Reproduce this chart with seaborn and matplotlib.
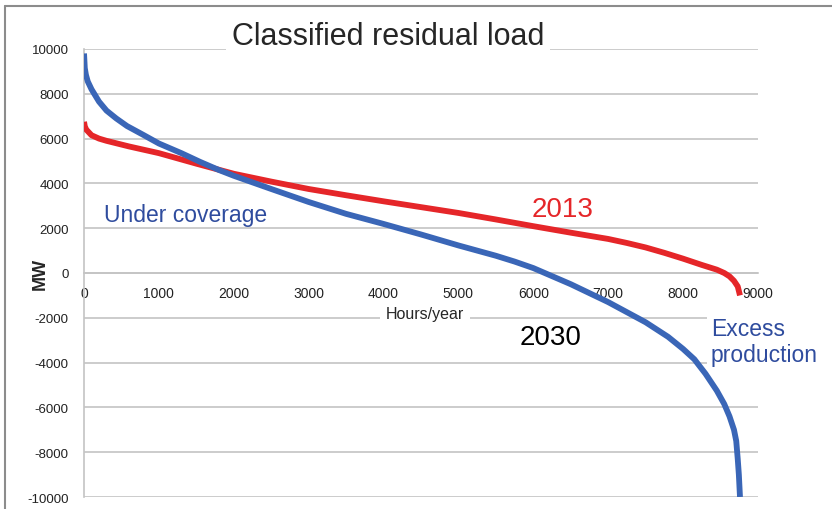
import numpy as np
import pandas as pd
import seaborn as sns
import matplotlib.pyplot as plt
from matplotlib.lines import Line2D

# values
hours_2030 = [0, 10, 25, 50, 100, 200, 300, 430, 574, 800, 1000, 1300, 1550, 1800, 2000,
              2500, 3000, 3500, 4000, 4500, 5000, 5250, 5500, 5750, 6000, 6500, 7000,
              7500, 7800, 8000, 8150, 8300, 8450, 8550, 8620, 8680, 8710, 8730, 8745, 8760]
load_2030 = [9800, 9150, 8850, 8550, 8200, 7650, 7250, 6900, 6560, 6150, 5780, 5350,
             4960, 4600, 4340, 3750, 3170, 2640, 2190, 1720, 1230, 1000, 770, 510, 220,
             -500, -1300, -2200, -2850, -3390, -3850, -4500, -5250, -5850, -6400, -7000,
             -7500, -8300, -9000, -10000]

hours_2013 = [0, 10, 30, 100, 200, 300, 600, 1000, 1500, 2000, 2500, 3000, 3500, 4000,
              4500, 5000, 5500, 6000, 6500, 7000, 7250, 7500, 7750, 8000, 8250, 8450,
              8550, 8620, 8680, 8730, 8760]
load_2013 = [6750, 6550, 6400, 6150, 6000, 5900, 5650, 5350, 4880, 4430, 4080, 3750,
             3470, 3200, 2940, 2680, 2390, 2090, 1800, 1520, 1340, 1140, 900, 640, 360,
             150, 0, -150, -350, -600, -1000]

x_ticks = [0, 1000, 2000, 3000, 4000, 5000, 6000, 7000, 8000, 9000]
y_ticks = [-10000, -8000, -6000, -4000, -2000, 0, 2000, 4000, 6000, 8000, 10000]

df = pd.concat([
    pd.DataFrame({"hours": hours_2013, "MW": load_2013, "year": "2013"}),
    pd.DataFrame({"hours": hours_2030, "MW": load_2030, "year": "2030"}),
])

sns.set_style("white")
plt.rcParams["font.family"] = ["Liberation Sans", "DejaVu Sans"]

grid_col = "#c4c4c4"
blue = "#3a66b7"
red = "#e52629"
text_blue = "#2f4c9e"

fig = plt.figure(figsize=(8.32, 5.10), dpi=100)
ax = fig.add_axes([0.101, 0.0235, 0.81, 0.8785])

sns.lineplot(data=df, x="hours", y="MW", hue="year", palette={"2013": red, "2030": blue},
             linewidth=4.2, legend=False, ax=ax, sort=False, zorder=3)
for ln in ax.lines:
    ln.set_solid_joinstyle("round")
    ln.set_solid_capstyle("butt")

ax.set_xlim(0, 9000)
ax.set_ylim(-10000, 10000)
ax.set_xticks(x_ticks)
ax.set_yticks(y_ticks)
ax.set_xticklabels([str(t) for t in x_ticks], fontsize=9.5)
ax.set_yticklabels([str(t) for t in y_ticks], fontsize=9.5)
ax.yaxis.grid(True, color=grid_col, linewidth=1.2)
ax.xaxis.grid(False)

for s in ["top", "right"]:
    ax.spines[s].set_visible(False)
ax.spines["bottom"].set_position(("data", 0))
ax.spines["bottom"].set_color(grid_col)
ax.spines["left"].set_color(grid_col)
ax.spines["bottom"].set_linewidth(1.2)
ax.spines["left"].set_linewidth(1.2)
ax.spines["bottom"].set_zorder(1)

ax.tick_params(axis="x", direction="inout", length=7, width=1, color=grid_col, pad=6,
               labelcolor="#222222")
ax.tick_params(axis="y", direction="out", length=4, width=1, color=grid_col, pad=7,
               labelcolor="#222222")

ax.set_xlabel("")
ax.set_ylabel("MW", fontsize=13, fontweight="bold")
ax.yaxis.set_label_coords(-0.053, 0.5)

# annotations inside the chart
ax.text(4553, -1830, "Hours/year", fontsize=11.5, ha="center", va="center",
        bbox=dict(facecolor="white", edgecolor="none", pad=4), zorder=4)
ax.text(267, 2600, "Under coverage", fontsize=16.5, color=text_blue, ha="left", va="center")
ax.text(6395, 2860, "2013", fontsize=20, color=red, ha="center", va="center")
ax.text(6235, -2860, "2030", fontsize=20, color="black", ha="center", va="center")
ax.text(8371, -3050, "Excess\nproduction", fontsize=16.5, color=text_blue, ha="left",
        va="center", linespacing=1.15,
        bbox=dict(facecolor="white", edgecolor="none", pad=3), zorder=4)

# title sitting on the top gridline
fig.text(0.4665, 0.927, "Classified residual load", fontsize=22, ha="center", va="center",
         bbox=dict(facecolor="white", edgecolor="none", pad=4), zorder=5)

# chart frame (top and left edges visible)
fig.add_artist(Line2D([0.006, 1.0], [0.986, 0.986], color="#8c8c8c", linewidth=1.5))
fig.add_artist(Line2D([0.006, 0.006], [0.0, 0.986], color="#8c8c8c", linewidth=1.5))

fig.savefig("out.png", dpi=100)
